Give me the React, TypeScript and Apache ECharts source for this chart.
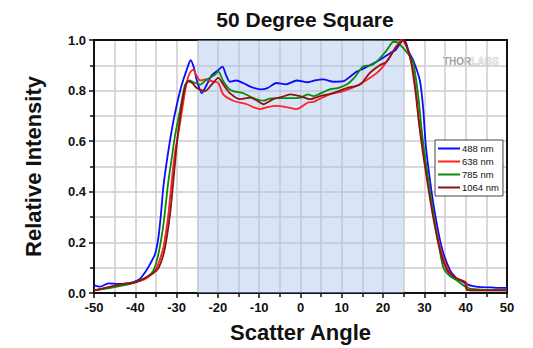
import React, { useEffect, useRef } from "react";
import * as echarts from "echarts";

const seriesNames = ["488 nm", "638 nm", "785 nm", "1064 nm"];
const seriesColors = ["#0a0aff", "#ff2222", "#0a8a0a", "#8b1515"];

const blue488: [number, number][] = [
  [-50, 0.03], [-48.5, 0.025], [-46.5, 0.038], [-44.5, 0.036], [-42, 0.038], [-40.5, 0.043],
  [-38.9, 0.056], [-37.5, 0.085], [-36.4, 0.115], [-35.2, 0.155], [-34.4, 0.22], [-33.8, 0.31],
  [-33.2, 0.42], [-32.2, 0.54], [-31, 0.66], [-30, 0.74], [-28.8, 0.82], [-27.6, 0.88],
  [-26.6, 0.92], [-25.8, 0.89], [-25.1, 0.84], [-23.9, 0.79], [-22.8, 0.82], [-21.5, 0.86],
  [-20, 0.88], [-18.9, 0.895], [-18, 0.86], [-17.1, 0.835], [-15.5, 0.84], [-13.9, 0.83],
  [-12, 0.815], [-9.8, 0.805], [-8, 0.81], [-5.8, 0.83], [-3.5, 0.825], [-0.9, 0.84],
  [1.8, 0.833], [3.5, 0.84], [5.5, 0.844], [8, 0.835], [10.4, 0.837], [12, 0.855],
  [13.6, 0.875], [15, 0.885], [16.8, 0.9], [18.5, 0.915], [20, 0.93], [21.7, 0.948],
  [23, 0.96], [24.1, 0.985], [24.7, 1.0], [25.5, 0.99], [26.3, 0.95], [27.3, 0.92],
  [28.9, 0.84], [29.7, 0.73], [30.3, 0.59], [31.4, 0.44], [32.6, 0.31], [34.2, 0.18],
  [36.2, 0.09], [38, 0.055], [39.4, 0.043], [40.3, 0.035], [41.5, 0.028], [43.5, 0.023],
  [46, 0.022], [48, 0.02], [50, 0.02],
];

const red638: [number, number][] = [
  [-50, 0.01], [-48, 0.016], [-46, 0.023], [-44, 0.03], [-41.3, 0.036], [-39.5, 0.045],
  [-37.6, 0.056], [-36, 0.075], [-34.8, 0.1], [-34, 0.135], [-33.2, 0.18], [-32.5, 0.25],
  [-32, 0.31], [-31.2, 0.44], [-30.4, 0.555], [-29.6, 0.63], [-28.8, 0.71], [-27.6, 0.83],
  [-26.8, 0.87], [-26, 0.883], [-25.2, 0.86], [-24.3, 0.84], [-23.1, 0.844], [-21.5, 0.837],
  [-19.9, 0.83], [-18.7, 0.785], [-16.3, 0.76], [-13, 0.746], [-11.5, 0.735], [-9.8, 0.727],
  [-8, 0.735], [-5.8, 0.74], [-3.5, 0.735], [-0.9, 0.727], [1.8, 0.753], [3.1, 0.755],
  [5, 0.77], [7.1, 0.785], [10.4, 0.798], [13.6, 0.818], [16.8, 0.85], [18.5, 0.87],
  [20, 0.896], [21.7, 0.935], [23.7, 0.987], [24.5, 1.0], [25.5, 0.98], [26.9, 0.91],
  [28.1, 0.78], [28.9, 0.65], [29.7, 0.57], [30.9, 0.44], [32.2, 0.31], [33.8, 0.18],
  [35.8, 0.09], [37, 0.065], [38.6, 0.052], [40.2, 0.04], [40.5, 0.012], [43, 0.01],
  [46, 0.01], [50, 0.01],
];

const green785: [number, number][] = [
  [-50, 0.01], [-46, 0.02], [-42.9, 0.03], [-40.5, 0.04], [-38.9, 0.05], [-37, 0.065],
  [-35.6, 0.089], [-34.4, 0.154], [-33.2, 0.27], [-32, 0.44], [-31.2, 0.53], [-30.4, 0.62],
  [-29.2, 0.72], [-28, 0.82], [-26.9, 0.84], [-25.5, 0.83], [-24.3, 0.824], [-22.7, 0.844],
  [-20.7, 0.863], [-19.9, 0.876], [-18.7, 0.837], [-17.5, 0.81], [-16.3, 0.798], [-13.9, 0.79],
  [-11.4, 0.77], [-9, 0.76], [-7.5, 0.768], [-5.8, 0.77], [-2.5, 0.77], [0, 0.772],
  [1.8, 0.785], [3.1, 0.778], [5, 0.79], [7.1, 0.805], [9, 0.81], [11.2, 0.824],
  [13, 0.85], [15.2, 0.896], [17, 0.9], [18.5, 0.915], [20.9, 0.96], [22.5, 0.993],
  [23.5, 0.99], [24.5, 0.975], [25.3, 0.96], [26.3, 0.94], [27.3, 0.91], [28.5, 0.78],
  [29.3, 0.65], [29.9, 0.57], [31, 0.44], [32.2, 0.31], [33.6, 0.18], [34.6, 0.1],
  [36, 0.07], [37.8, 0.05], [40.2, 0.023], [42, 0.015], [46, 0.012], [50, 0.012],
];

const darkRed1064: [number, number][] = [
  [-50, 0.01], [-46, 0.025], [-42.9, 0.036], [-39.8, 0.043], [-37.3, 0.062], [-34.8, 0.089],
  [-33.8, 0.12], [-32.8, 0.18], [-31.6, 0.31], [-30.8, 0.44], [-29.8, 0.61], [-28.4, 0.78],
  [-27.2, 0.837], [-26.2, 0.83], [-25.1, 0.81], [-23.1, 0.798], [-21.5, 0.824], [-19.9, 0.85],
  [-18.7, 0.824], [-17.1, 0.79], [-14.6, 0.766], [-12.2, 0.772], [-10.5, 0.76], [-9, 0.746],
  [-6.6, 0.766], [-4.5, 0.775], [-2.5, 0.785], [-0.1, 0.778], [2.3, 0.766], [4.7, 0.778],
  [7.9, 0.79], [11.2, 0.81], [14.4, 0.824], [16.8, 0.87], [19.2, 0.9], [20.9, 0.915],
  [22.9, 0.967], [24.1, 0.987], [24.8, 1.0], [25.6, 0.98], [26.7, 0.92], [27.8, 0.8],
  [28.7, 0.67], [29.5, 0.57], [30.7, 0.44], [32, 0.31], [33.6, 0.18], [35.5, 0.09],
  [37.5, 0.06], [39.8, 0.043], [40.3, 0.012], [43, 0.01], [50, 0.01],
];

const shadedRange = [-25, 25];
const xRange = [-50, 50];
const yRange = [0, 1];

const FONT = "'Liberation Sans', Arial, sans-serif";

export default function App() {
  const ref = useRef<HTMLDivElement>(null);
  useEffect(() => {
    if (!ref.current) return;
    document.body.style.margin = "0";
    const chart = echarts.init(ref.current, null, { renderer: "svg" });
    const allData = [blue488, red638, green785, darkRed1064];
    const gridLine = { show: true, lineStyle: { color: "#cccccc", width: 1.5 } };
    const option: any = {
      animation: false,
      backgroundColor: "#ffffff",
      title: {
        text: "50 Degree Square",
        left: 300,
        textAlign: "center",
        top: 4,
        textStyle: { fontFamily: FONT, fontSize: 21, fontWeight: "bold", color: "#111" },
      },
      grid: { left: 94, right: 26, top: 40, bottom: 52, containLabel: false },
      legend: {
        orient: "vertical",
        left: 435,
        top: 140,
        data: seriesNames,
        icon: "rect",
        itemWidth: 22,
        itemHeight: 2,
        itemGap: 2,
        padding: [3, 4, 3, 3],
        borderColor: "#444",
        borderWidth: 1,
        backgroundColor: "#ffffff",
        textStyle: { fontFamily: FONT, fontSize: 9.5, color: "#111", lineHeight: 11, padding: [0, 0, 0, -3] },
      },
      graphic: [
        {
          type: "text",
          left: 443,
          top: 56,
          style: {
            text: "{a|THOR}{b|LABS}",
            rich: {
              a: { fontFamily: FONT, fontSize: 10, fontWeight: "bold", fill: "#a0a0a0" },
              b: { fontFamily: FONT, fontSize: 10, fontWeight: "bold", fill: "#e4e4e4", stroke: "#c8c8c8", lineWidth: 0.5 },
            },
          },
        },
      ],
      xAxis: [
        {
          type: "value",
          min: xRange[0],
          max: xRange[1],
          interval: 10,
          name: "Scatter Angle",
          nameLocation: "middle",
          nameGap: 28,
          nameTextStyle: { fontFamily: FONT, fontSize: 22, fontWeight: "bold", color: "#111" },
          axisLine: { show: true, onZero: false, lineStyle: { color: "#111", width: 2 } },
          axisTick: { show: true, length: 5, lineStyle: { color: "#111", width: 1.5 } },
          minorTick: { show: true, splitNumber: 2, length: 4, lineStyle: { color: "#111", width: 1.5 } },
          axisLabel: { fontFamily: FONT, fontSize: 13, fontWeight: "bold", color: "#111", margin: 8 },
          splitLine: gridLine,
          minorSplitLine: gridLine,
        },
        {
          type: "value",
          position: "top",
          min: xRange[0],
          max: xRange[1],
          interval: 10,
          axisLine: { show: true, onZero: false, lineStyle: { color: "#111", width: 2 } },
          axisTick: { show: false },
          axisLabel: { show: false },
          splitLine: { show: false },
        },
      ],
      yAxis: [
        {
          type: "value",
          min: yRange[0],
          max: yRange[1],
          interval: 0.2,
          name: "Relative Intensity",
          nameLocation: "middle",
          nameGap: 50,
          nameTextStyle: { fontFamily: FONT, fontSize: 22, fontWeight: "bold", color: "#111" },
          axisLine: { show: true, onZero: false, lineStyle: { color: "#111", width: 2 } },
          axisTick: { show: true, length: 5, lineStyle: { color: "#111", width: 1.5 } },
          minorTick: { show: true, splitNumber: 2, length: 4, lineStyle: { color: "#111", width: 1.5 } },
          axisLabel: {
            fontFamily: FONT,
            fontSize: 13,
            fontWeight: "bold",
            color: "#111",
            margin: 8,
            formatter: (v: number) => v.toFixed(1),
          },
          splitLine: gridLine,
          minorSplitLine: gridLine,
        },
        {
          type: "value",
          position: "right",
          min: yRange[0],
          max: yRange[1],
          interval: 0.2,
          axisLine: { show: true, onZero: false, lineStyle: { color: "#111", width: 2 } },
          axisTick: { show: false },
          axisLabel: { show: false },
          splitLine: { show: false },
        },
      ],
      series: allData.map((d, i) => ({
        name: seriesNames[i],
        type: "line",
        data: d,
        showSymbol: false,
        smooth: 0.25,
        color: seriesColors[i],
        lineStyle: { width: 1.8, color: seriesColors[i] },
        xAxisIndex: 0,
        yAxisIndex: 0,
        z: 3 + i,
        ...(i === 0
          ? {
              markArea: {
                silent: true,
                itemStyle: { color: "rgba(170,195,235,0.45)" },
                data: [[{ xAxis: shadedRange[0] }, { xAxis: shadedRange[1] }]],
              },
            }
          : {}),
      })),
    };
    chart.setOption(option);
    return () => chart.dispose();
  }, []);
  return <div ref={ref} style={{ width: 533, height: 348 }} />;
}
